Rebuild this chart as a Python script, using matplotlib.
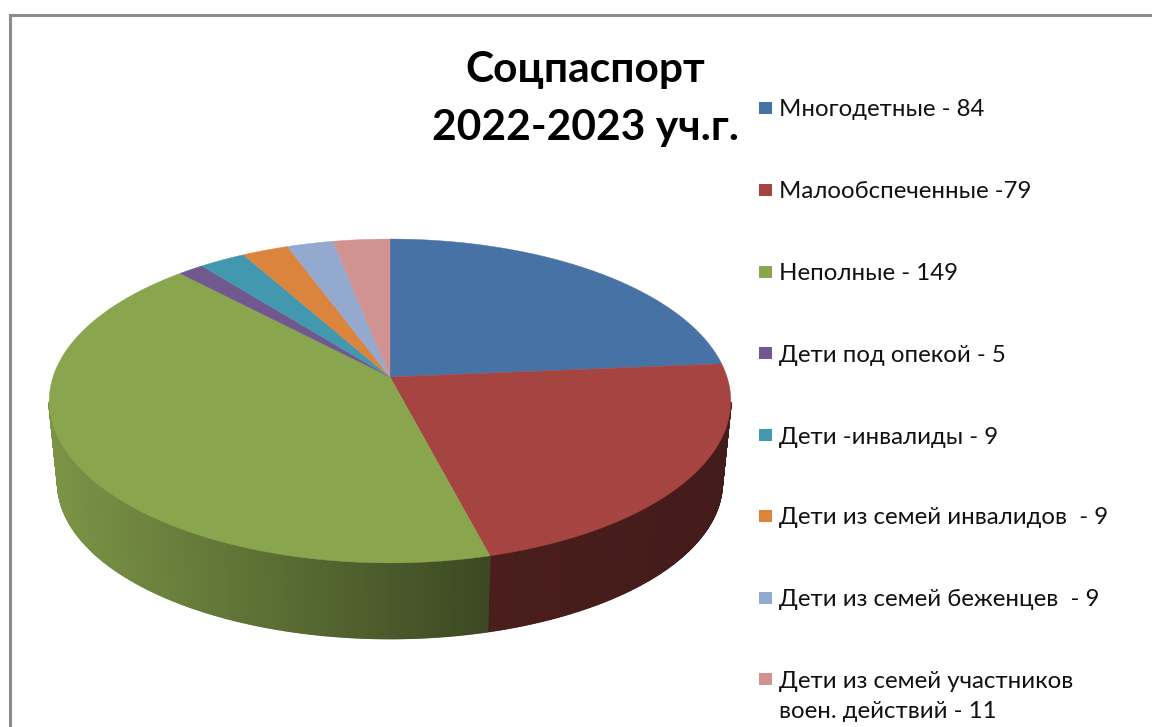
import numpy as np
import matplotlib
matplotlib.use("Agg")
import matplotlib.pyplot as plt
from matplotlib.collections import PolyCollection
from matplotlib.patches import Rectangle
from matplotlib.colors import to_rgb

plt.rcParams['font.family'] = ['Lato', 'Open Sans', 'DejaVu Sans']

title_lines = ["Соцпаспорт", "2022-2023 уч.г."]
labels = ["Многодетные - 84", "Малообспеченные -79", "Неполные - 149",
          "Дети под опекой - 5", "Дети -инвалиды - 9",
          "Дети из семей инвалидов  - 9", "Дети из семей беженцев  - 9",
          "Дети из семей участников\nвоен. действий - 11"]
values = [84, 79, 149, 5, 9, 9, 9, 11]
colors = ["#4672A6", "#A64441", "#89A54E", "#71588F",
          "#4198AF", "#DB843D", "#93A9CF", "#D19392"]

fig = plt.figure(figsize=(11.52, 7.27), dpi=100, facecolor="white")
ax = fig.add_axes([0, 0, 1, 1])
ax.set_xlim(0, 1152)
ax.set_ylim(727, 0)
ax.axis("off")

# Perspective projection of the pie disc
K = 0.148
def project(theta, r, cx, cy, a, b):
    u, v = r * np.sin(theta), r * np.cos(theta)
    w = 1 + K * v
    return cx + a * u / w, cy - b * v / w

TOP = dict(cx=390, cy=377, a=337, b=158.4)
BOT = dict(cx=390, cy=459.5, a=328.5, b=152.5)

# Frame
ax.plot([9.5, 9.5, 1152], [727, 15, 15], color="#8c8c8c", lw=2.2,
        solid_joinstyle="miter", zorder=1)

edges = np.radians(np.concatenate([[0], np.cumsum(values)]) / np.sum(values) * 360)

# Side wall, shaded along x
quads, quad_cols = [], []
front0, front1 = np.radians(99), np.radians(261)
for i, col in enumerate(colors):
    t0, t1 = max(edges[i], front0), min(edges[i + 1], front1)
    if t1 <= t0:
        continue
    th = np.linspace(t0, t1, max(2, int(np.degrees(t1 - t0) * 3)))
    xt, yt = project(th, 1, **TOP)
    xb, yb = project(th, 1, **BOT)
    base = np.array(to_rgb(col))
    for j in range(len(th) - 1):
        quads.append([(xt[j], yt[j]), (xt[j + 1], yt[j + 1]),
                      (xb[j + 1], yb[j + 1]), (xb[j], yb[j])])
        xm = (xt[j] + xt[j + 1]) / 2
        quad_cols.append(base * np.interp(xm, [57, 489, 723], [0.89, 0.44, 0.41]))
ax.add_collection(PolyCollection(quads, facecolors=quad_cols, edgecolors=quad_cols,
                                 linewidths=1.2, zorder=2))

# Top face
for i, col in enumerate(colors):
    th = np.linspace(edges[i], edges[i + 1], 200)
    x, y = project(th, 1, **TOP)
    ax.fill(np.r_[TOP["cx"], x], np.r_[TOP["cy"], y], color=col, lw=0.3, zorder=3)

# Title
for line, y in zip(title_lines, [70, 128]):
    ax.text(585, y, line, ha="center", va="center", fontsize=30.6,
            fontweight="bold", color="black", zorder=5)

# Legend
legend_y = [108, 190, 272, 353, 435, 516, 598, 679]
for lab, col, y in zip(labels, colors, legend_y):
    ax.add_patch(Rectangle((759, y - 6.5), 12.5, 12.5, facecolor=col,
                           edgecolor="none", zorder=5))
    ax.text(779, y - 8.5, lab, ha="left", va="top", fontsize=17.3,
            color="#111111", linespacing=1.55, zorder=5)

fig.savefig("out.png", dpi=100, facecolor="white")
